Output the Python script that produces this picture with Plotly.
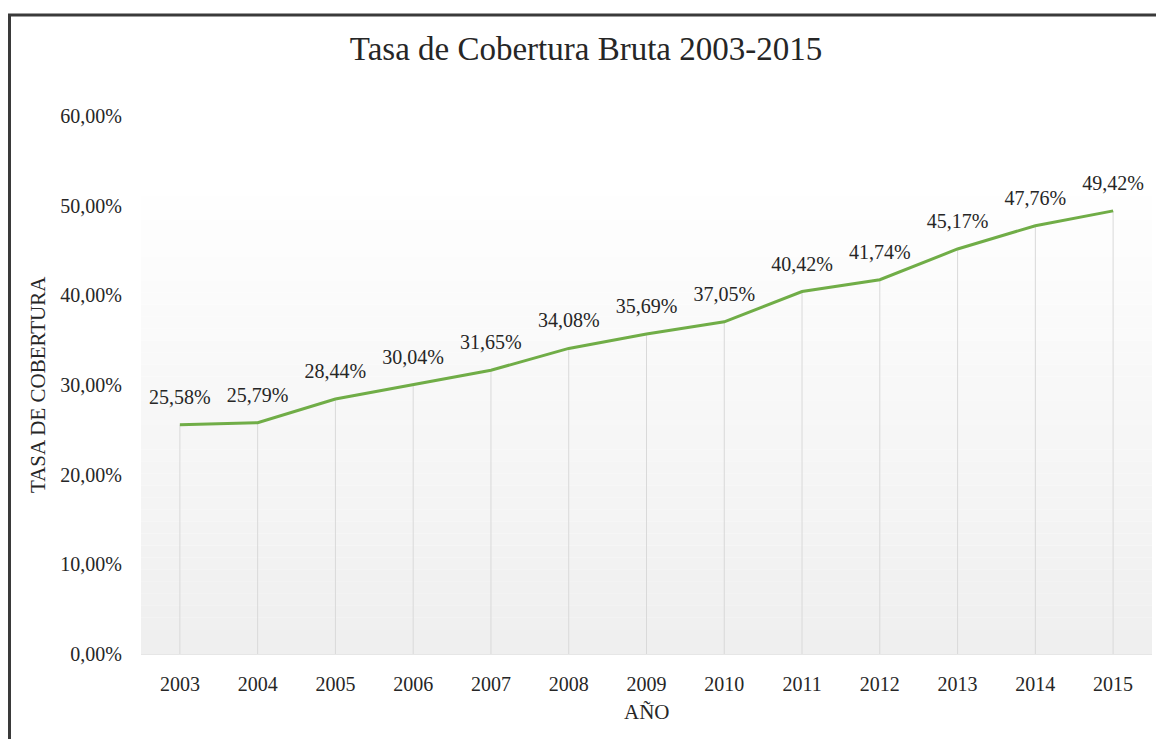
import plotly.graph_objects as go

years = ["2003", "2004", "2005", "2006", "2007", "2008", "2009",
         "2010", "2011", "2012", "2013", "2014", "2015"]
tasa = [25.58, 25.79, 28.44, 30.04, 31.65, 34.08, 35.69,
        37.05, 40.42, 41.74, 45.17, 47.76, 49.42]
y_ticks = [0, 10, 20, 30, 40, 50, 60]
y_ticktext = [f"{v:.2f}%".replace(".", ",") for v in y_ticks]

FONT = "Liberation Serif, Times New Roman, serif"
TXT = "#262626"

# page body has an 8px margin: figure is sized/positioned to compensate
OFF = 8
W, H = 1164 - OFF, 739 - OFF
L, R, T, B = 141 - OFF, 12, 116 - OFF, 85
pw, ph = W - L - R, H - T - B


def px(x):
    return (x - OFF - L) / pw


def py(y):
    return (H - B - (y - OFF)) / ph


fig = go.Figure()

fig.add_trace(go.Scatter(
    x=years, y=tasa,
    mode="lines+markers+text",
    line=dict(color="#70ad47", width=3),
    marker=dict(size=24, color="rgba(0,0,0,0)"),
    texttemplate="%{y:.2f}%",
    textposition="top center",
    textfont=dict(family=FONT, size=20, color=TXT),
    error_y=dict(type="data", symmetric=False, array=[0] * len(tasa),
                 arrayminus=tasa, color="#d9d9d9", thickness=1, width=0),
    cliponaxis=False,
    hoverinfo="skip",
))

# background gradient of plot area
shapes = []
N = 40
top = py(172)
for i in range(N):
    y0 = top * i / N
    y1 = top * (i + 1) / N
    f = i / (N - 1)
    c = int(round(239 + (255 - 239) * f))
    shapes.append(dict(type="rect", xref="paper", yref="paper", x0=0, x1=1,
                       y0=y0, y1=y1, fillcolor=f"rgb({c},{c},{c})",
                       line=dict(width=0), layer="below"))
# outer frame (left and top)
shapes.append(dict(type="line", xref="paper", yref="paper",
                   x0=px(9.5), x1=px(9.5), y0=py(15), y1=py(760),
                   line=dict(color="#3a3a3a", width=3)))
shapes.append(dict(type="line", xref="paper", yref="paper",
                   x0=px(8), x1=px(1180), y0=py(15), y1=py(15),
                   line=dict(color="#3a3a3a", width=3)))

fig.update_layout(
    width=W, height=H,
    margin=dict(l=L, r=R, t=T, b=B),
    paper_bgcolor="white",
    plot_bgcolor="rgba(0,0,0,0)",
    separators=",.",
    showlegend=False,
    shapes=shapes,
    title=dict(text="Tasa de Cobertura Bruta 2003-2015", x=0.5, xanchor="center",
               xref="container", yref="container", y=1 - (48 - OFF) / H,
               yanchor="middle",
               font=dict(family=FONT, size=33, color=TXT)),
    font=dict(family=FONT, color=TXT),
    xaxis=dict(type="category", range=[-0.5, len(years) - 0.5],
               showgrid=False, zeroline=False,
               showline=True, linecolor="#e6e6e6", linewidth=1,
               tickfont=dict(family=FONT, size=20, color=TXT),
               ticklabelstandoff=12, fixedrange=True, automargin=False),
    yaxis=dict(range=[0, 60], tickvals=y_ticks, ticktext=y_ticktext,
               showgrid=False, zeroline=False, showline=False,
               tickfont=dict(family=FONT, size=20, color=TXT),
               ticklabelstandoff=18, fixedrange=True, automargin=False),
    annotations=[
        dict(text="TASA DE COBERTURA", xref="paper", yref="paper",
             x=px(38), y=0.5, xanchor="center", yanchor="middle",
             textangle=-90, showarrow=False,
             font=dict(family=FONT, size=21, color=TXT)),
        dict(text="AÑO", xref="paper", yref="paper",
             x=0.5, y=py(712), xanchor="center", yanchor="middle",
             showarrow=False, font=dict(family=FONT, size=21, color=TXT)),
    ],
)

fig.write_html("out.html")
